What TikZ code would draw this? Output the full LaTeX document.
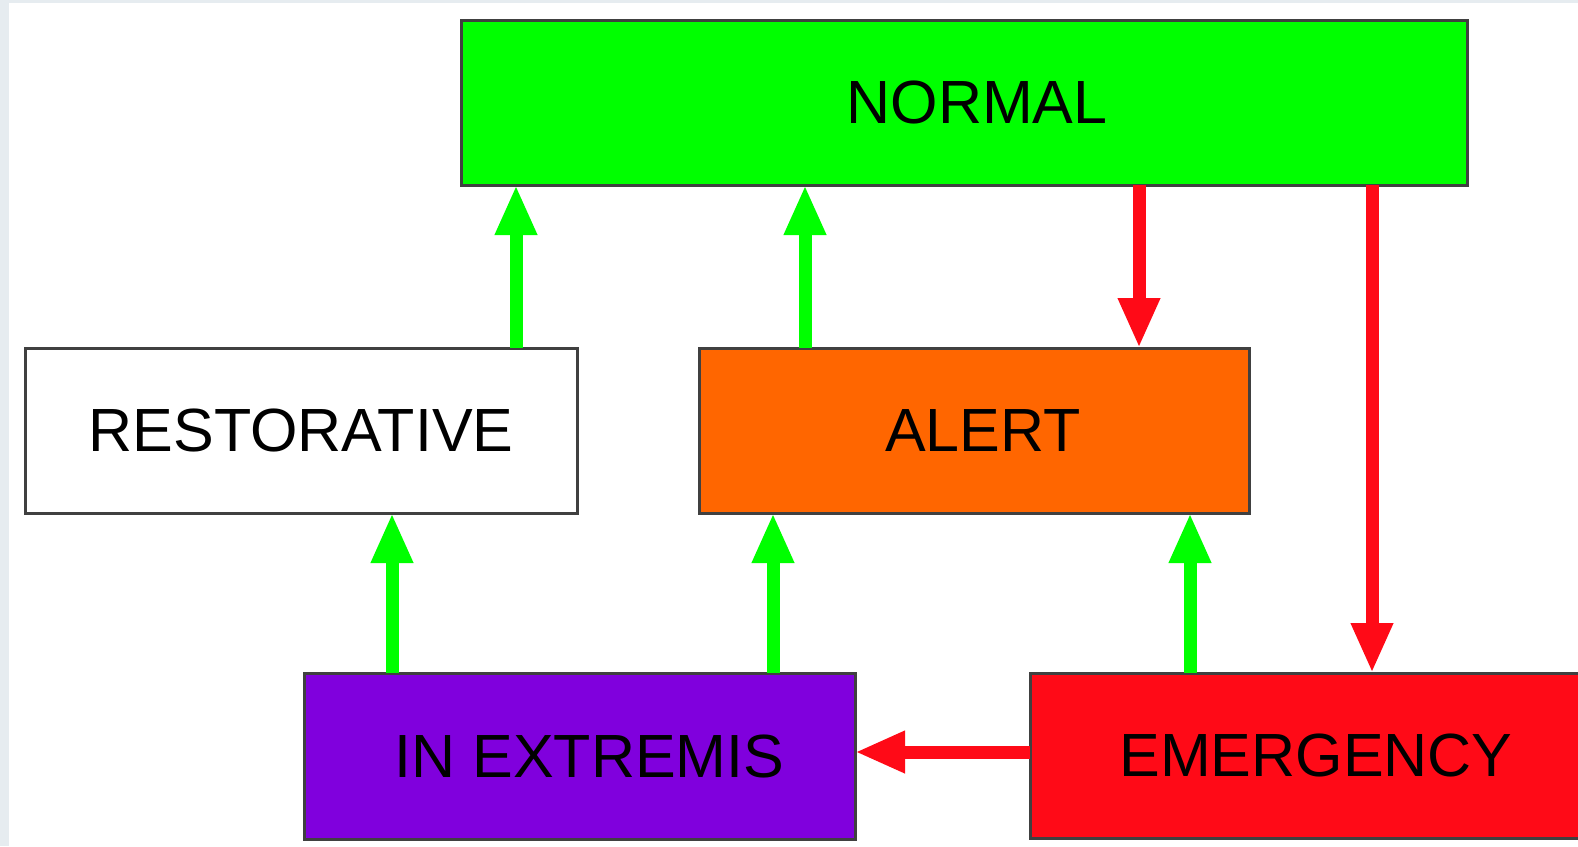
\documentclass[tikz,border=0pt]{standalone}
\usepackage{fontspec}
\setmainfont{Liberation Sans}
\usetikzlibrary{arrows.meta,calc}
\definecolor{okgreen}{RGB}{0,255,0}
\definecolor{alertorange}{RGB}{255,102,0}
\definecolor{extpurple}{RGB}{128,0,221}
\definecolor{emred}{RGB}{255,10,23}
\definecolor{edgegray}{RGB}{64,64,64}
\definecolor{bggray}{RGB}{230,236,240}
\begin{document}
\begin{tikzpicture}[x=0.5pt,y=-0.5pt,
    state/.style={draw=edgegray,line width=1.5pt,rectangle,
        minimum height=82.5pt,inner sep=0pt,outer sep=0pt,
        font=\fontsize{30.5}{36}\selectfont},
    flow/.style={line width=6.5pt,-{Triangle[length=25pt,width=19.5pt]}},
    goflow/.style={flow,okgreen},
    badflow/.style={flow,emred}]
\clip (0,0) rectangle (1578,846);
\fill[bggray] (0,0) rectangle (1578,846);
\fill[white] (9,3) rectangle (1578,846);
% states
\node[state,fill=okgreen,minimum width=503pt] (normal) at (964,102.5) {\hspace*{13pt}NORMAL};
\node[state,fill=white,minimum width=276pt] (rest) at (301,430.5) {RESTORATIVE};
\node[state,fill=alertorange,minimum width=275pt] (alert) at (974,430.5) {\hspace*{9pt}ALERT};
\node[state,fill=extpurple,minimum width=275.5pt,minimum height=83pt] (extr) at (579.5,756) {\hspace*{10pt}IN EXTREMIS};
\node[state,fill=emred,minimum width=286pt] (emerg) at (1316,755.5) {EMERGENCY};
% feet of the arrows
\coordinate (r1) at ($(rest.north)+(215,0)$);
\coordinate (a1) at ($(alert.north)+(-169,0)$);
\coordinate (a2) at ($(alert.north)+(165,0)$);
\coordinate (e1) at ($(emerg.north)+(56,0)$);
\coordinate (e2) at ($(emerg.north)+(-126,0)$);
\coordinate (x1) at ($(extr.north)+(-187.5,0)$);
\coordinate (x2) at ($(extr.north)+(193.5,0)$);
\coordinate (h1) at ($(emerg.west)+(0,-3.5)$);
% transitions
\draw[goflow] (r1) -- (r1 |- normal.south);
\draw[goflow] (a1) -- (a1 |- normal.south);
\draw[badflow] (a2 |- normal.south) -- (a2);
\draw[badflow] (e1 |- normal.south) -- (e1);
\draw[goflow] (x1) -- (x1 |- rest.south);
\draw[goflow] (x2) -- (x2 |- alert.south);
\draw[goflow] (e2) -- (e2 |- alert.south);
\draw[badflow] (h1) -- (h1 -| extr.east);
\end{tikzpicture}
\end{document}
